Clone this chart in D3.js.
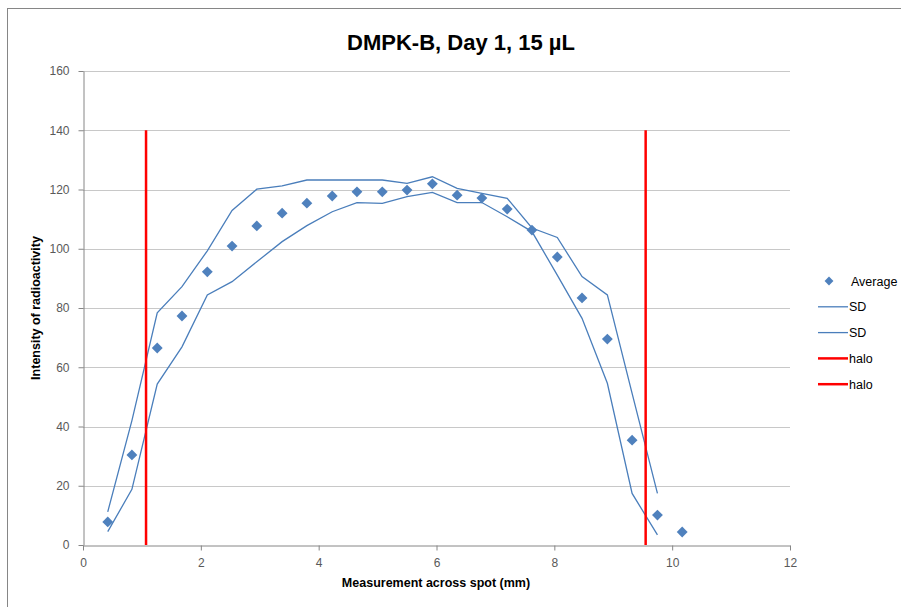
<!DOCTYPE html>
<html>
<head>
<meta charset="utf-8">
<script src="https://cdn.jsdelivr.net/npm/d3@7"></script>
<style>
  body { margin: 0; background: #fff; }
  text { font-family: "Liberation Sans", "DejaVu Sans", sans-serif; }
</style>
</head>
<body>
<svg id="chart"></svg>
<script>
// measurement positions (mm)
var xPos = [0.42, 0.83, 1.26, 1.68, 2.11, 2.53, 2.95, 3.38, 3.80, 4.23, 4.65, 5.08,
            5.50, 5.93, 6.35, 6.77, 7.20, 7.62, 8.05, 8.47, 8.90, 9.32, 9.75, 10.17];
var average = [7.8, 30.4, 66.5, 77.3, 92.2, 100.9, 107.7, 112.0, 115.4, 117.8, 119.2, 119.2,
               119.8, 121.9, 118.1, 117.1, 113.4, 106.3, 97.2, 83.4, 69.5, 35.4, 10.1, 4.4];
var sdUpper = [11.2, 42.0, 78.4, 87.2, 99.3, 112.9, 120.1, 121.2, 123.2, 123.2, 123.2, 123.2,
               122.1, 124.3, 120.4, 118.7, 117.0, 107.0, 103.8, 90.6, 84.4, 51.2, 17.4];
var sdLower = [4.5, 18.8, 54.3, 66.9, 84.4, 88.9, 95.6, 102.4, 107.8, 112.5, 115.6, 115.3,
               117.6, 119.0, 115.6, 115.6, 110.8, 105.8, 91.1, 76.5, 54.6, 17.4, 3.4];
var haloLeft = [[1.07, 0], [1.07, 140]];
var haloRight = [[9.55, 0], [9.55, 140]];
var xTicks = [0, 2, 4, 6, 8, 10, 12];
var yTicks = [0, 20, 40, 60, 80, 100, 120, 140, 160];
var legendItems = [
  {name: "Average", kind: "marker"},
  {name: "SD", kind: "sd"},
  {name: "SD", kind: "sd"},
  {name: "halo", kind: "halo"},
  {name: "halo", kind: "halo"}
];

var width = 901, height = 607;
var svg = d3.select("#chart").attr("width", width).attr("height", height);

// chart frame
svg.append("rect")
  .attr("x", 7.5).attr("y", 8.5)
  .attr("width", 1000).attr("height", 1000)
  .style("fill", "#fff").style("stroke", "#868686").style("stroke-width", 1);

var xScale = d3.scaleLinear().domain([0, 12]).range([83, 790]);
var yScale = d3.scaleLinear().domain([0, 160]).range([545, 71]);

// gridlines
svg.append("g").selectAll("line")
  .data(yTicks.filter(function(d){ return d > 0; }))
  .enter().append("line")
    .attr("x1", xScale(0)).attr("x2", xScale(12))
    .attr("y1", function(d){ return Math.round(yScale(d)) + 0.5; })
    .attr("y2", function(d){ return Math.round(yScale(d)) + 0.5; })
    .style("stroke", "#c8c8c8").style("stroke-width", 1);

// axes
var xAxis = d3.axisBottom(xScale).tickValues(xTicks).tickSize(5).tickSizeOuter(0);
var yAxis = d3.axisLeft(yScale).tickValues(yTicks).tickSize(5).tickSizeOuter(0);

var gx = svg.append("g")
  .attr("transform", "translate(0," + (Math.round(yScale(0)) + 0.5) + ")")
  .call(xAxis);
var gy = svg.append("g")
  .attr("transform", "translate(" + (Math.round(xScale(0)) + 0.5) + ",0)")
  .call(yAxis);

[gx, gy].forEach(function(g){
  g.select(".domain").style("stroke", "#868686");
  g.selectAll(".tick line").style("stroke", "#868686");
  g.selectAll(".tick text").style("fill", "#595959").style("font-size", "12px");
});
gx.selectAll(".tick text").attr("dy", "1.1em");
gy.selectAll(".tick text").attr("x", -14);

// SD lines
var line = d3.line()
  .x(function(d){ return xScale(d[0]); })
  .y(function(d){ return yScale(d[1]); });

[sdUpper, sdLower].forEach(function(sd){
  var pts = sd.map(function(v, i){ return [xPos[i], v]; });
  svg.append("path")
    .datum(pts)
    .attr("d", line)
    .style("fill", "none")
    .style("stroke", "#4a7ebb")
    .style("stroke-width", 1.3);
});

// halo lines
[haloLeft, haloRight].forEach(function(h){
  svg.append("path")
    .datum(h)
    .attr("d", line)
    .style("fill", "none")
    .style("stroke", "#ff0000")
    .style("stroke-width", 2.5);
});

// average markers
var diamond = d3.symbol().type(d3.symbolDiamond2).size(75);
svg.append("g").selectAll("path")
  .data(average)
  .enter().append("path")
    .attr("d", diamond)
    .attr("transform", function(d, i){ return "translate(" + xScale(xPos[i]) + "," + yScale(d) + ")"; })
    .style("fill", "#4f81bd");

// title
svg.append("text")
  .attr("x", 461).attr("y", 50)
  .attr("text-anchor", "middle")
  .style("font-size", "22px").style("font-weight", "bold").style("fill", "#000")
  .text("DMPK-B, Day 1, 15 µL");

// axis titles
svg.append("text")
  .attr("x", 436).attr("y", 587)
  .attr("text-anchor", "middle")
  .style("font-size", "12.5px").style("font-weight", "bold").style("fill", "#000")
  .text("Measurement across spot (mm)");

svg.append("text")
  .attr("transform", "translate(40,308) rotate(-90)")
  .attr("text-anchor", "middle")
  .style("font-size", "12.5px").style("font-weight", "bold").style("fill", "#000")
  .text("Intensity of radioactivity");

// legend
var legend = svg.append("g").selectAll("g")
  .data(legendItems)
  .enter().append("g")
    .attr("transform", function(d, i){ return "translate(818," + (281 + i * 25.8) + ")"; });

legend.each(function(d){
  var g = d3.select(this);
  if (d.kind === "marker") {
    g.append("path").attr("d", d3.symbol().type(d3.symbolDiamond2).size(50))
      .attr("transform", "translate(11,0)").style("fill", "#4f81bd");
  } else {
    g.append("line").attr("x1", 0).attr("x2", 30)
      .style("stroke", d.kind === "sd" ? "#4a7ebb" : "#ff0000")
      .style("stroke-width", d.kind === "sd" ? 1.3 : 2.5);
  }
  g.append("text")
    .attr("x", d.kind === "marker" ? 33 : 31).attr("y", 4.5)
    .style("font-size", "12.5px").style("fill", "#000")
    .text(d.name);
});
</script>
</body>
</html>
